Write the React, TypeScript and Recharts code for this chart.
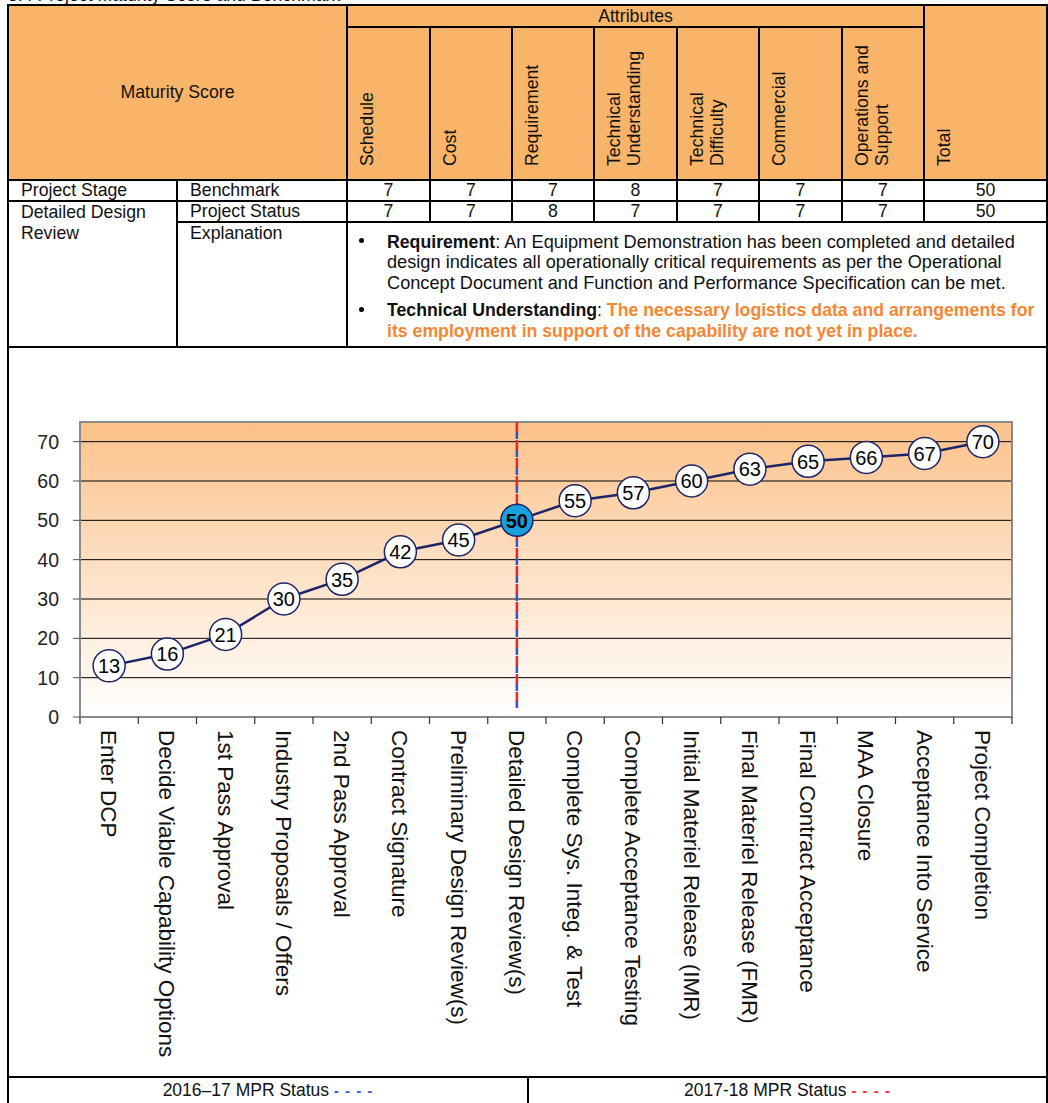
import React from 'react';
import { ComposedChart, Line, XAxis, YAxis, CartesianGrid, ReferenceLine, ReferenceArea } from 'recharts';

// chart data
const stages = [
  'Enter DCP',
  'Decide Viable Capability Options',
  '1st Pass Approval',
  'Industry Proposals / Offers',
  '2nd Pass Approval',
  'Contract Signature',
  'Preliminary Design Review(s)',
  'Detailed Design Review(s)',
  'Complete Sys. Integ. & Test',
  'Complete Acceptance Testing',
  'Initial Materiel Release (IMR)',
  'Final Materiel Release (FMR)',
  'Final Contract Acceptance',
  'MAA Closure',
  'Acceptance Into Service',
  'Project Completion',
];
const maturityScores = [13, 16, 21, 30, 35, 42, 45, 50, 55, 57, 60, 63, 65, 66, 67, 70];
const currentStage = 'Detailed Design Review(s)';
const yTicks = [0, 10, 20, 30, 40, 50, 60, 70];

// table data
const attributeLabels = [
  'Schedule',
  'Cost',
  'Requirement',
  'Technical\nUnderstanding',
  'Technical\nDifficulty',
  'Commercial',
  'Operations and\nSupport',
];
const benchmarkScores = [7, 7, 7, 8, 7, 7, 7];
const statusScores = [7, 7, 8, 7, 7, 7, 7];
const benchmarkTotal = 50;
const statusTotal = 50;

const FONT = '"Liberation Sans", Arial, sans-serif';
const HEADER_BG = '#F8B468';
const NAVY = '#1E2468';

// table grid
const COLS = [8, 177, 347, 430, 512, 594, 677, 759, 842, 924, 1047];
const ROWS = [5, 27, 180, 201, 222, 347, 1077, 1103];

const HLine = ({ x1, x2, y }: { x1: number; x2: number; y: number }) => (
  <div style={{ position: 'absolute', left: x1 - 1, top: y - 1, width: x2 - x1 + 2, height: 2, background: '#000' }} />
);
const VLine = ({ x, y1, y2 }: { x: number; y1: number; y2: number }) => (
  <div style={{ position: 'absolute', left: x - 1, top: y1 - 1, width: 2, height: y2 - y1 + 2, background: '#000' }} />
);

const Box = ({ x1, x2, y1, y2, children, style }: any) => (
  <div
    style={{
      position: 'absolute',
      left: x1,
      top: y1,
      width: x2 - x1,
      height: y2 - y1,
      display: 'flex',
      alignItems: 'center',
      justifyContent: 'center',
      whiteSpace: 'nowrap',
      ...style,
    }}
  >
    {children}
  </div>
);

const renderDot = (props: any) => {
  const { cx, cy, payload, index } = props;
  const current = payload.stage === currentStage;
  return (
    <g key={`dot-${index}`}>
      <circle cx={cx} cy={cy} r={16} fill={current ? '#1AA0DC' : '#fff'} stroke={NAVY} strokeWidth={1.5} />
      <text
        x={cx}
        y={cy}
        dy="0.36em"
        textAnchor="middle"
        fontSize={20}
        fontWeight={current ? 'bold' : 'normal'}
        fontFamily={FONT}
        fill="#000"
      >
        {payload.score}
      </text>
    </g>
  );
};

const StageTick = (props: any) => {
  const { x, y, payload, index, visibleTicksCount } = props;
  const half = payload.offset || 29.125;
  const ty = y + 13;
  return (
    <g>
      <line x1={x - half} x2={x - half} y1={y} y2={y + 7} stroke="#333" strokeWidth={1.2} />
      {index === visibleTicksCount - 1 && (
        <line x1={x + half} x2={x + half} y1={y} y2={y + 7} stroke="#333" strokeWidth={1.2} />
      )}
      <text
        x={x}
        y={ty}
        dy="0.36em"
        transform={`rotate(90 ${x} ${ty})`}
        textAnchor="start"
        fontSize={22.5}
        fontFamily={FONT}
        fill="#111"
      >
        {payload.value}
      </text>
    </g>
  );
};

function MaturityChart() {
  const data = stages.map((stage, i) => ({ stage, score: maturityScores[i] }));
  return (
    <ComposedChart width={1037} height={726} data={data} margin={{ top: 73, right: 34, bottom: 8, left: 11 }}>
      <defs>
        <linearGradient id="plotBg" x1="0" y1="0" x2="0" y2="1">
          <stop offset="0%" stopColor="#FBC28A" />
          <stop offset="100%" stopColor="#FFFFFF" />
        </linearGradient>
      </defs>
      <CartesianGrid vertical={false} stroke="#000" strokeWidth={1} fill="url(#plotBg)" />
      <ReferenceArea y1={0} y2={75} fill="none" stroke="#8a8a8a" strokeWidth={2} />
      <XAxis
        dataKey="stage"
        type="category"
        scale="band"
        interval={0}
        height={350}
        tickLine={false}
        tickSize={0}
        tickMargin={0}
        axisLine={{ stroke: '#8a8a8a', strokeWidth: 2 }}
        tick={<StageTick />}
      />
      <YAxis
        domain={[0, 75]}
        ticks={yTicks}
        width={60}
        tickSize={7}
        tickMargin={14}
        axisLine={{ stroke: '#8a8a8a', strokeWidth: 2 }}
        tickLine={{ stroke: '#555' }}
        tick={{ fontSize: 19.5, fill: '#222', fontFamily: FONT }}
      />
      <ReferenceLine
        segment={[{ x: currentStage, y: 75 }, { x: currentStage, y: 2.3 }]}
        stroke="#2F55C8"
        strokeWidth={2.5}
        strokeDasharray="8 10"
        strokeDashoffset={9}
      />
      <ReferenceLine
        segment={[{ x: currentStage, y: 75 }, { x: currentStage, y: 2.3 }]}
        stroke="#F0242C"
        strokeWidth={2.5}
        strokeDasharray="10 8"
      />
      <Line
        dataKey="score"
        stroke={NAVY}
        strokeWidth={2.5}
        dot={renderDot}
        activeDot={false}
        isAnimationActive={false}
      />
    </ComposedChart>
  );
}

export default function App() {
  const attrCols = attributeLabels.map((_, i) => [COLS[i + 2], COLS[i + 3]]);
  const textStyle = { fontFamily: FONT, fontSize: 17.7, color: '#111' };
  return (
    <div style={{ position: 'absolute', left: 0, top: 0, width: 1048, height: 1103, overflow: 'hidden', background: '#fff', ...textStyle }}>
      {/* section title, mostly cut off by the page top */}
      <div style={{ position: 'absolute', left: 8, top: -15, whiteSpace: 'nowrap' }}>
        3.4 Project Maturity Score and Benchmark
      </div>

      {/* header fill */}
      <div style={{ position: 'absolute', left: COLS[0], top: ROWS[0], width: COLS[10] - COLS[0], height: ROWS[2] - ROWS[0], background: HEADER_BG }} />

      <Box x1={COLS[0]} x2={COLS[2]} y1={ROWS[0]} y2={ROWS[2]}>Maturity Score</Box>
      <Box x1={COLS[2]} x2={COLS[9]} y1={ROWS[0]} y2={ROWS[1]}>Attributes</Box>

      {attributeLabels.map((label, i) => (
        <div
          key={label}
          style={{
            position: 'absolute',
            left: attrCols[i][0] + 10,
            top: ROWS[1] + 8,
            height: ROWS[2] - ROWS[1] - 22,
            writingMode: 'vertical-rl',
            transform: 'rotate(180deg)',
            whiteSpace: 'pre',
            lineHeight: '20px',
          }}
        >
          {label}
        </div>
      ))}
      <div
        style={{
          position: 'absolute',
          left: COLS[9] + 10,
          top: ROWS[1] + 8,
          height: ROWS[2] - ROWS[1] - 22,
          writingMode: 'vertical-rl',
          transform: 'rotate(180deg)',
          lineHeight: '20px',
        }}
      >
        Total
      </div>

      {/* benchmark row */}
      <Box x1={COLS[0] + 13} x2={COLS[1]} y1={ROWS[2]} y2={ROWS[3]} style={{ justifyContent: 'flex-start' }}>Project Stage</Box>
      <Box x1={COLS[1] + 13} x2={COLS[2]} y1={ROWS[2]} y2={ROWS[3]} style={{ justifyContent: 'flex-start' }}>Benchmark</Box>
      {benchmarkScores.map((v, i) => (
        <Box key={`b${i}`} x1={attrCols[i][0]} x2={attrCols[i][1]} y1={ROWS[2]} y2={ROWS[3]}>{v}</Box>
      ))}
      <Box x1={COLS[9]} x2={COLS[10]} y1={ROWS[2]} y2={ROWS[3]}>{benchmarkTotal}</Box>

      {/* status row */}
      <div style={{ position: 'absolute', left: COLS[0] + 13, top: ROWS[3] + 1, lineHeight: '21px' }}>
        Detailed Design
        <br />
        Review
      </div>
      <Box x1={COLS[1] + 13} x2={COLS[2]} y1={ROWS[3]} y2={ROWS[4]} style={{ justifyContent: 'flex-start' }}>Project Status</Box>
      {statusScores.map((v, i) => (
        <Box key={`s${i}`} x1={attrCols[i][0]} x2={attrCols[i][1]} y1={ROWS[3]} y2={ROWS[4]}>{v}</Box>
      ))}
      <Box x1={COLS[9]} x2={COLS[10]} y1={ROWS[3]} y2={ROWS[4]}>{statusTotal}</Box>

      {/* explanation */}
      <div style={{ position: 'absolute', left: COLS[1] + 13, top: ROWS[4] + 1, lineHeight: '21px' }}>Explanation</div>
      <div style={{ position: 'absolute', left: 359, top: 238, width: 5, height: 5, borderRadius: 3, background: '#000' }} />
      <div style={{ position: 'absolute', left: 387, top: 231.5, lineHeight: '20.5px', whiteSpace: 'nowrap', fontSize: 18.2 }}>
        <div>
          <b style={{ fontSize: 17.7 }}>Requirement</b>: An Equipment Demonstration has been completed and detailed
        </div>
        <div>design indicates all operationally critical requirements as per the Operational</div>
        <div>Concept Document and Function and Performance Specification can be met.</div>
      </div>
      <div style={{ position: 'absolute', left: 359, top: 307, width: 5, height: 5, borderRadius: 3, background: '#000' }} />
      <div style={{ position: 'absolute', left: 387, top: 300, lineHeight: '20.5px', whiteSpace: 'nowrap', fontWeight: 'bold', fontSize: 17.7 }}>
        <div>
          Technical Understanding<span style={{ fontWeight: 'normal' }}>: </span>
          <span style={{ color: '#F58634' }}>The necessary logistics data and arrangements for</span>
        </div>
        <div style={{ color: '#F58634' }}>its employment in support of the capability are not yet in place.</div>
      </div>

      {/* chart */}
      <div style={{ position: 'absolute', left: 9, top: 349 }}>
        <MaturityChart />
      </div>

      {/* legend row */}
      <Box x1={COLS[0]} x2={528} y1={ROWS[6]} y2={ROWS[7]} style={{ fontSize: 17.5 }}>
        2016–17 MPR Status&nbsp;<span style={{ color: '#2F55C8', fontWeight: 'bold', fontSize: 15, letterSpacing: 1 }}>- - - -</span>
      </Box>
      <Box x1={528} x2={COLS[10]} y1={ROWS[6]} y2={ROWS[7]} style={{ fontSize: 17.5 }}>
        2017-18 MPR Status&nbsp;<span style={{ color: '#F0242C', fontWeight: 'bold', fontSize: 15, letterSpacing: 1 }}>- - - -</span>
      </Box>

      {/* table rules */}
      <HLine x1={COLS[0]} x2={COLS[10]} y={ROWS[0]} />
      <HLine x1={COLS[2]} x2={COLS[9]} y={ROWS[1]} />
      <HLine x1={COLS[0]} x2={COLS[10]} y={ROWS[2]} />
      <HLine x1={COLS[0]} x2={COLS[10]} y={ROWS[3]} />
      <HLine x1={COLS[1]} x2={COLS[10]} y={ROWS[4]} />
      <HLine x1={COLS[0]} x2={COLS[10]} y={ROWS[5]} />
      <HLine x1={COLS[0]} x2={COLS[10]} y={ROWS[6]} />
      <VLine x={COLS[0]} y1={ROWS[0]} y2={ROWS[7] + 2} />
      <VLine x={COLS[10]} y1={ROWS[0]} y2={ROWS[7] + 2} />
      <VLine x={COLS[1]} y1={ROWS[2]} y2={ROWS[5]} />
      <VLine x={COLS[2]} y1={ROWS[0]} y2={ROWS[5]} />
      {COLS.slice(3, 9).map((x) => (
        <VLine key={x} x={x} y1={ROWS[1]} y2={ROWS[4]} />
      ))}
      <VLine x={COLS[9]} y1={ROWS[0]} y2={ROWS[4]} />
      <VLine x={528} y1={ROWS[6]} y2={ROWS[7] + 2} />
    </div>
  );
}
